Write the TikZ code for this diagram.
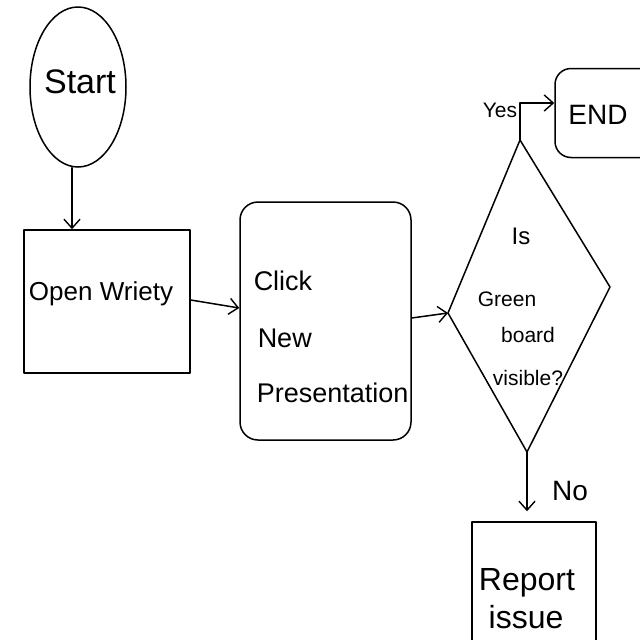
\documentclass[tikz,border=0pt]{standalone}
\usepackage{fontspec}
\setmainfont{Liberation Sans}
\usetikzlibrary{arrows.meta,shapes.geometric,calc}
\begin{document}
\begin{tikzpicture}[x=1pt,y=-1pt,
  line width=1.5pt, line join=round, line cap=round,
  box/.style={draw, rectangle, inner sep=0pt},
  txt/.style={inner sep=0pt, anchor=base},
  flow/.style={-{Straight Barb[length=9pt,width=16pt,line width=1.4pt]}}]
\useasboundingbox (0,0) rectangle (640,640);
\clip (0,0) rectangle (640,640);
\fill[white] (0,0) rectangle (640,640);
% Start
\node[draw, ellipse, minimum width=96pt, minimum height=160pt, inner sep=0pt] (start) at (78,87) {};
\node[txt, font=\fontsize{34}{36}\selectfont] (tstart) at (80,93) {Start};
% Open Wriety
\node[box, minimum width=166pt, minimum height=143pt] (open) at (107,301.5) {};
\node[txt, font=\fontsize{26}{28}\selectfont] (topen) at (101,300) {Open Wriety};
% Click New Presentation
\node[box, rounded corners=18pt, minimum width=171pt, minimum height=238pt] (click) at (325.5,321) {};
\node[txt, anchor=base west, font=\fontsize{27}{30}\selectfont] (t1) at (253,290) {Click};
\node[txt, anchor=base west, font=\fontsize{27}{30}\selectfont] (t2) at (257,347) {New};
\node[txt, anchor=base west, font=\fontsize{27}{30}\selectfont] (t3) at (256,402) {Presentation};
% Diamond
\coordinate (dt) at (520,140);
\coordinate (dr) at (610,287);
\coordinate (db) at (527,452);
\coordinate (dl) at (448,313);
\draw (dt) -- (dr) -- (db) -- (dl) -- cycle;
\node[txt, font=\fontsize{24}{26}\selectfont] (q1) at (521,244) {Is};
\node[txt, font=\fontsize{21}{24}\selectfont] (q2) at (507,306) {Green};
\node[txt, font=\fontsize{21}{24}\selectfont] (q3) at (528,342) {board};
\node[txt, font=\fontsize{21}{24}\selectfont] (q4) at (528,385) {visible?};
% END
\node[box, rounded corners=16pt, minimum width=110pt, minimum height=89pt] (endb) at (610,113) {};
\node[txt, font=\fontsize{28}{30}\selectfont] (tend) at (598,124) {END};
% Report issue
\node[box, minimum width=124pt, minimum height=140pt] (report) at (534,592) {};
\node[txt, font=\fontsize{32}{34}\selectfont] (r1) at (527,590) {Report};
\node[txt, font=\fontsize{32}{34}\selectfont] (r2) at (526,628) {issue};
% connectors
\draw[flow] (start.south -| 72,0) -- (open.north -| 72,0);
\draw[flow] (open.east |- 0,300) -- (click.west |- 0,308);
\draw[flow] (click.east |- 0,318) -- (dl);
\draw[flow] (dt) -- (dt |- 0,103) -- (endb.west |- 0,103);
\draw[flow] (db) -- ($(report.north)+(-7,-10)$);
\node[txt, font=\fontsize{21}{24}\selectfont] (lyes) at (500,117) {Yes};
\node[txt, font=\fontsize{28}{30}\selectfont] (lno) at (570,500) {No};
\end{tikzpicture}
\end{document}
